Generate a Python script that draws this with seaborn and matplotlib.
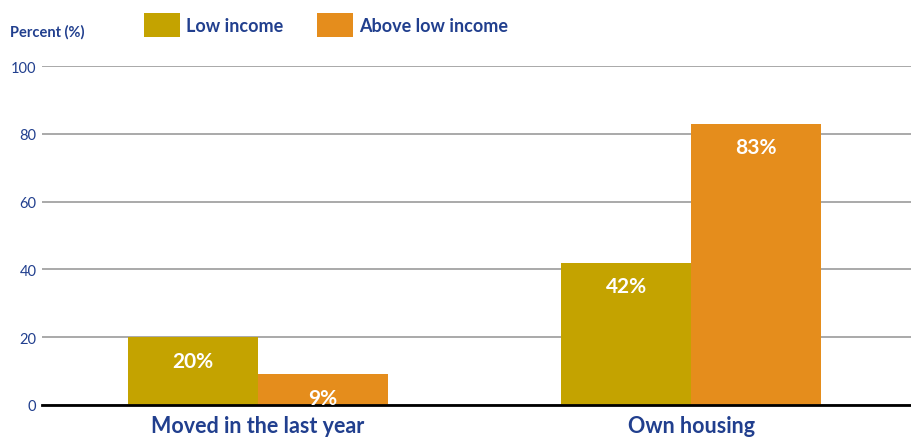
import matplotlib
matplotlib.use("Agg")
import matplotlib.pyplot as plt
import seaborn as sns
import pandas as pd
from matplotlib.patches import Patch

categories = ["Moved in the last year", "Own housing"]
series_names = ["Low income", "Above low income"]
low_income = [20, 42]
above_low_income = [9, 83]
yticks = [0, 20, 40, 60, 80, 100]

BLUE = "#213F8E"
COLORS = ["#C4A300", "#E58D1C"]

sns.set_theme(style="white")
plt.rcParams["font.family"] = ["Lato", "DejaVu Sans"]

df = pd.DataFrame({
    "category": categories * 2,
    "series": [series_names[0]] * 2 + [series_names[1]] * 2,
    "value": low_income + above_low_income,
})

fig = plt.figure(figsize=(9.12, 4.39), dpi=100)
ax = fig.add_axes([0.046, 0.0752, 0.954, 0.772])

sns.barplot(data=df, x="category", y="value", hue="series", order=categories,
            hue_order=series_names, palette=COLORS, width=0.6, saturation=1,
            errorbar=None, ax=ax, legend=False, zorder=3, linewidth=0,
            edgecolor="none")

ax.set_ylim(0, 100)
ax.set_xlim(-0.499, 1.51)
ax.set_yticks(yticks)
ax.set_yticklabels([str(t) for t in yticks], color=BLUE, fontsize=10.5)
ax.yaxis.grid(True, color="#A3A3A3", linewidth=1.3, zorder=0)
ax.set_axisbelow(True)
for s in ["top", "right", "left"]:
    ax.spines[s].set_visible(False)
ax.spines["bottom"].set_color("black")
ax.spines["bottom"].set_linewidth(2)
ax.spines["bottom"].set_zorder(5)
ax.tick_params(axis="y", length=0, pad=4)
ax.tick_params(axis="x", length=0, pad=7)
ax.set_xticks(range(len(categories)))
ax.set_xticklabels(categories, color=BLUE, fontsize=15.5, fontweight="bold")
ax.set_xlabel("")
ax.set_ylabel("")

for cont in ax.containers:
    for bar in cont:
        h = bar.get_height()
        ax.annotate(f"{h:.0f}%", (bar.get_x() + bar.get_width() / 2, h),
                    xytext=(0, -17), textcoords="offset points",
                    ha="center", va="center", color="white",
                    fontsize=15, fontweight="bold", zorder=6)

fig.text(10 / 912, 1 - 32 / 439, "Percent (%)", color=BLUE, fontsize=10.5,
         fontweight="bold", ha="left", va="center")

handles = [Patch(facecolor=c, edgecolor="none") for c in COLORS]
leg = fig.legend(handles, series_names, loc="center left",
                 bbox_to_anchor=(144 / 912, 1 - 26 / 439), ncol=2, frameon=False,
                 borderpad=0, borderaxespad=0,
                 handlelength=2.0, handleheight=1.7, handletextpad=0.3,
                 columnspacing=1.9, prop={"weight": "bold", "size": 13})
for t in leg.get_texts():
    t.set_color(BLUE)

fig.savefig("out.png", dpi=100)
